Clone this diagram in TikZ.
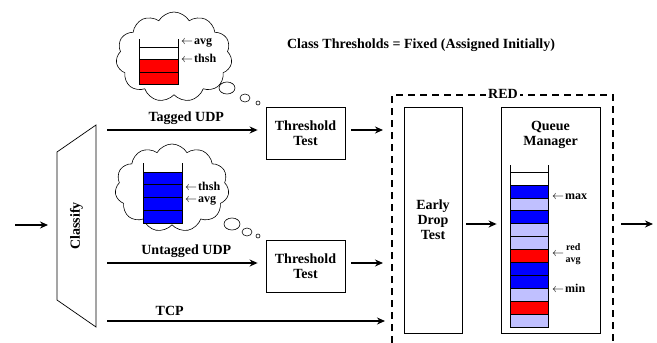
\documentclass[tikz,border=0pt]{standalone}
\usepackage{fontspec}
\setmainfont{Liberation Serif}
\usetikzlibrary{arrows.meta,shapes.symbols,positioning}
\definecolor{pale}{RGB}{192,192,255}
\tikzset{
    lbl/.style={font=\bfseries\fontsize{14}{15}\selectfont},
    tag/.style={font=\bfseries\fontsize{12}{10}\selectfont, inner sep=0pt},
    box/.style={draw, line width=0.8pt, lbl, align=center, inner sep=0pt},
    flow/.style={-{Stealth[length=8pt,width=7pt]}, line width=1.3pt},
    cell/.style={draw, line width=0.6pt},
    thought/.style={draw, line width=0.6pt}
}
\newcommand{\larr}{$\leftarrow$\kern1pt}
\begin{document}
\begin{tikzpicture}[x=1pt,y=-1pt]
                \useasboundingbox (0,0) rectangle (657,343);

                \node[lbl] (title) at (421,45) {Class Thresholds = Fixed (Assigned Initially)};

                \draw[line width=0.7pt] (57,152) -- (96,125) -- (96,327) -- (57,300) -- cycle;
                \node[lbl, rotate=90] (classify) at (76.5,226) {Classify};
                \coordinate (clsw) at (57,225);
                \coordinate (in) at (15,225);
                \draw[flow, shorten >=9pt] (in) -- (clsw);

                \node[box, minimum width=79pt, minimum height=52pt] (thr1) at (305.5,133) {Threshold\\Test};
                \node[box, minimum width=79pt, minimum height=52pt] (thr2) at (305.5,266) {Threshold\\Test};

                \coordinate (tagin) at (107,130);
                \coordinate (untagin) at (107,263);
                \coordinate (tcpin) at (107,321);
                \coordinate (redw) at (392,0);

                \draw[flow, shorten >=8pt] (tagin) -- (tagin -| thr1.west) node[lbl, midway, above=1pt] {Tagged UDP};
                \draw[flow, shorten >=8pt] (untagin) -- (untagin -| thr2.west) node[lbl, midway, above=1pt] {Untagged UDP};
                \draw[flow, shorten >=7pt] (tcpin) -- (tcpin -| redw) node[lbl, pos=0.22, above=1pt] {TCP};

                \draw[flow, shorten <=6pt, shorten >=9pt] (thr1.east |- tagin) -- (tagin -| redw);
                \draw[flow, shorten <=6pt, shorten >=9pt] (thr2.east |- untagin) -- (untagin -| redw);

                \draw[dashed, line width=1.6pt, dash pattern=on 7pt off 5pt] (392,343) -- (392,95) -- (613,95) -- (613,343);
                \node[lbl, fill=white, inner sep=2pt] (red) at (503,94) {RED};

                \node[box, minimum width=58pt, minimum height=226pt] (edt) at (433,220) {Early\\Drop\\Test};
                \node[box, minimum width=99pt, minimum height=226pt] (qm) at (550.5,220) {};
                \node[lbl, align=center, below=11pt of qm.north] (qmname) {Queue\\Manager};

                \coordinate (out) at (653,224);
                \draw[flow, shorten <=4pt, shorten >=4pt] ([yshift=-4pt]edt.east) -- ([yshift=-4pt]qm.west);
                \draw[flow, shorten <=21pt] ([yshift=-4pt]qm.east) -- (out);

                \foreach \c [count=\i from 0] in {white,blue,pale,blue,pale,pale,red,blue,blue,pale,red,pale}
                    \draw[cell, fill=\c] (510,172+12.9*\i) rectangle ++(38,12.9);
                \draw[cell] (510,165) -- (510,172) (548,165) -- (548,172);

                \node[tag, anchor=west] (max) at (552,197) {\larr max};
                \node[tag, anchor=west] (redarr) at (552,254) {\larr};
                \node[tag, anchor=west, font=\bfseries\fontsize{10}{10}\selectfont] (redtxt) at (566,247) {red};
                \node[tag, anchor=west, font=\bfseries\fontsize{10}{10}\selectfont] (avgtxt) at (565.5,261.5) {avg};
                \node[tag, anchor=west] (min) at (552,288) {\larr min};

                \node[cloud, thought, cloud puffs=11, cloud puff arc=120, cloud ignores aspect, minimum width=116pt, minimum height=90pt] (cloud1) at (174,57) {};
                \draw[thought] (227,88) ellipse [x radius=8, y radius=6];
                \draw[thought] (245,98) ellipse [x radius=5, y radius=4];
                \draw[thought] (258,103) circle [radius=2];

                \foreach \c [count=\i from 0] in {white,red,red}
                    \draw[cell, fill=\c] (139,47+12.4*\i) rectangle ++(39,12.4);
                \draw[cell] (139,39) -- (139,47) (178,39) -- (178,47);
                \node[tag, anchor=west] (avg1) at (181,43) {\larr avg};
                \node[tag, anchor=west] (thsh1) at (181,58) {\larr thsh};

                \node[cloud, thought, cloud puffs=11, cloud puff arc=120, cloud ignores aspect, minimum width=114pt, minimum height=88pt] (cloud2) at (172,188) {};
                \draw[thought] (232,224) ellipse [x radius=8, y radius=6];
                \draw[thought] (247,232) ellipse [x radius=5, y radius=4];
                \draw[thought] (258,236) circle [radius=2];

                \foreach \i in {0,...,3}
                    \draw[cell, fill=blue] (143,172+12.75*\i) rectangle ++(39,12.75);
                \draw[cell] (143,163) -- (143,172) (182,163) -- (182,172);
                \node[tag, anchor=west] (thsh2) at (185,186) {\larr thsh};
                \node[tag, anchor=west] (avg2) at (185,201) {\larr avg};
            \end{tikzpicture}
\end{document}
